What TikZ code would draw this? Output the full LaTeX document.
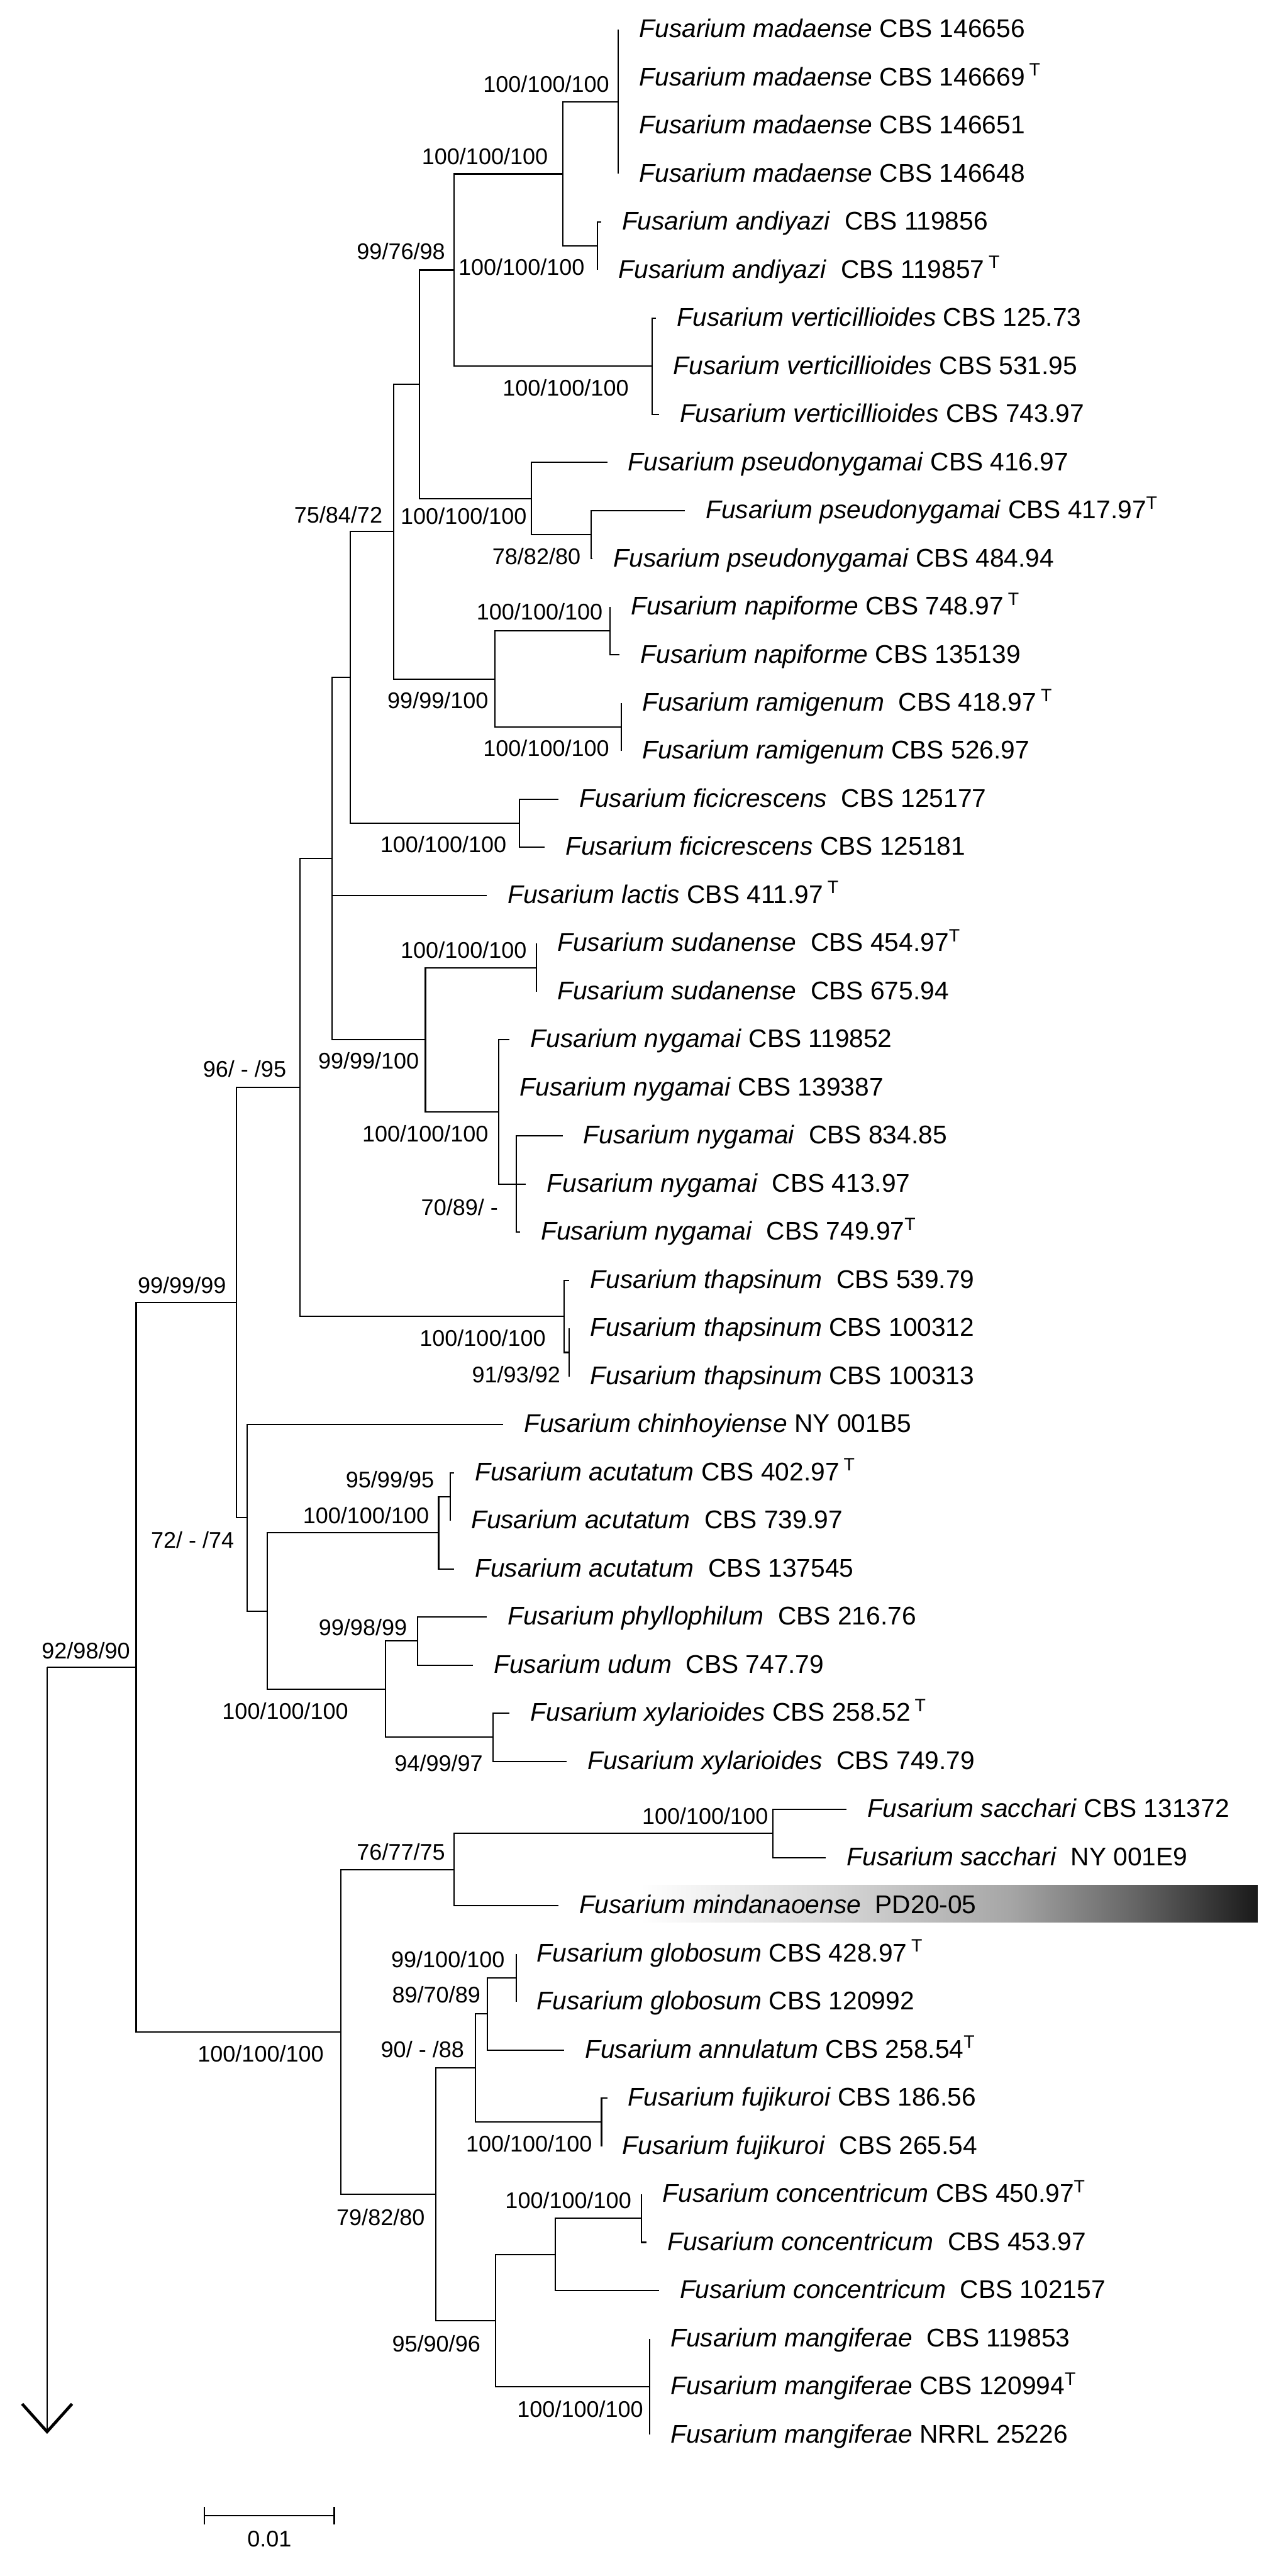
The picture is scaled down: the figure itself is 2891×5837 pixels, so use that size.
\documentclass[tikz,border=0pt]{standalone}
\usepackage{fontspec}
\setmainfont{Liberation Sans}
\usetikzlibrary{positioning,arrows.meta}
\newcommand{\Ty}{\textsuperscript{T}}
\pgfdeclarehorizontalshading{barshade}{100bp}{color(0bp)=(white); color(25bp)=(white); color(40bp)=(black!15); color(55bp)=(black!35); color(65bp)=(black!60); color(75bp)=(black!90); color(100bp)=(black!90)}
\begin{document}
\begin{tikzpicture}[x=.01cm,y=-.01cm,line width=.85pt,
  taxon/.style={inner sep=0pt,text height=.42cm,text depth=.06cm,font=\fontsize{16.5}{18}\selectfont},
  supp/.style={inner sep=0pt,anchor=east,font=\fontsize{14.6}{16}\selectfont}]
\useasboundingbox (0,0) rectangle (2891,5837);
\shade[shading=barshade] (1450,4271) rectangle (2850,4355);
\coordinate (root) at (106.7,3777.9); \coordinate (rootEnd) at (106.7,5515); \coordinate (nF) at (308.5,3777.9);
\coordinate (nH) at (535.7,2951.6); \coordinate (nG) at (680,2464); \coordinate (nE) at (752,1945.5); \coordinate (nD) at (794,1535.1);
\coordinate (nC) at (892,1204.7); \coordinate (nB) at (951,870.9); \coordinate (nA) at (1029,612); \coordinate (nMA) at (1275,394);
\coordinate (nMad) at (1401,230.5); \coordinate (nAnd) at (1354,557.5); \coordinate (nVer) at (1478,830);
\coordinate (nPs) at (1204.5,1129.8); \coordinate (nPs2) at (1339,1211.5); \coordinate (nNR) at (1121,1538.5);
\coordinate (nNap) at (1382,1429.5); \coordinate (nRam) at (1408,1647.5); \coordinate (nFic) at (1177,1865.5);
\coordinate (nSN) at (964,2356); \coordinate (nSud) at (1215.6,2192.5); \coordinate (nNyg) at (1130.6,2519.5); \coordinate (nNyg2) at (1169.4,2683);
\coordinate (nTh) at (1278,2982.8); \coordinate (nTh2) at (1289.5,3064.5);
\coordinate (nI) at (560,3439.2); \coordinate (nJ) at (606,3650.4); \coordinate (nAc) at (994,3473.3); \coordinate (nAc2) at (1020,3391.5);
\coordinate (nK) at (874,3827.5); \coordinate (nPh) at (946,3718.5); \coordinate (nXy) at (1117.7,3936.5);
\coordinate (nL) at (772,4604.1); \coordinate (nM) at (1029,4236.3); \coordinate (nSac) at (1751,4154.5);
\coordinate (nO) at (988,4972); \coordinate (nQ) at (1077,4685.9); \coordinate (nGA) at (1105,4563.3); \coordinate (nGlo) at (1169.4,4481.5);
\coordinate (nFuj) at (1363,4808.5); \coordinate (nU) at (1123,5258.1); \coordinate (nCon) at (1258,5108.3); \coordinate (nCon2) at (1454,5026.5); \coordinate (nMan) at (1472,5408);
\draw (root) -- (nF); \draw[-{Straight Barb[length=.63cm,width=1.13cm,line width=1.9pt]}] (root) -- (rootEnd);
\draw (nF) |- (nH); \draw (nF) |- (nL); \draw (nH) |- (nG); \draw (nH) |- (nI); \draw (nG) |- (nE); \draw (nG) |- (nTh);
\draw (nE) |- (nD); \draw (nE) |- (nSN); \draw (nD) |- (nC); \draw (nD) |- (nFic); \draw (nC) |- (nB); \draw (nC) |- (nNR);
\draw (nB) |- (nA); \draw (nB) |- (nPs); \draw (nA) |- (nMA); \draw (nA) |- (nVer); \draw (nMA) |- (nMad); \draw (nMA) |- (nAnd);
\draw (nPs) |- (nPs2); \draw (nNR) |- (nNap); \draw (nNR) |- (nRam); \draw (nSN) |- (nSud); \draw (nSN) |- (nNyg); \draw (nNyg) |- (nNyg2);
\draw (nTh) |- (nTh2); \draw (nI) |- (nJ); \draw (nJ) |- (nAc); \draw (nJ) |- (nK); \draw (nAc) |- (nAc2); \draw (nK) |- (nPh); \draw (nK) |- (nXy);
\draw (nL) |- (nM); \draw (nL) |- (nO); \draw (nM) |- (nSac); \draw (nO) |- (nQ); \draw (nO) |- (nU); \draw (nQ) |- (nGA); \draw (nQ) |- (nFuj);
\draw (nGA) |- (nGlo); \draw (nU) |- (nCon); \draw (nU) |- (nMan); \draw (nCon) |- (nCon2);
\coordinate (e1) at (1401,67); \draw (nMad) |- (e1); \node[taxon,right=.46cm of e1] (t1) {\textit{Fusarium madaense} CBS 146656};
\coordinate (e2) at (1401,176); \draw (nMad) |- (e2); \node[taxon,right=.46cm of e2] (t2) {\textit{Fusarium madaense} CBS 146669\,\Ty};
\coordinate (e3) at (1401,285); \draw (nMad) |- (e3); \node[taxon,right=.46cm of e3] (t3) {\textit{Fusarium madaense} CBS 146651};
\coordinate (e4) at (1401,394); \draw (nMad) |- (e4); \node[taxon,right=.46cm of e4] (t4) {\textit{Fusarium madaense} CBS 146648};
\coordinate (e5) at (1362,503); \draw (nAnd) |- (e5); \node[taxon,right=.46cm of e5] (t5) {\textit{Fusarium andiyazi}~ CBS 119856};
\coordinate (e6) at (1354,612); \draw (nAnd) |- (e6); \node[taxon,right=.46cm of e6] (t6) {\textit{Fusarium andiyazi}~ CBS 119857\,\Ty};
\coordinate (e7) at (1487,721); \draw (nVer) |- (e7); \node[taxon,right=.46cm of e7] (t7) {\textit{Fusarium verticillioides} CBS 125.73};
\coordinate (e8) at (1478,830); \draw (nVer) |- (e8); \node[taxon,right=.46cm of e8] (t8) {\textit{Fusarium verticillioides} CBS 531.95};
\coordinate (e9) at (1493,939); \draw (nVer) |- (e9); \node[taxon,right=.46cm of e9] (t9) {\textit{Fusarium verticillioides} CBS 743.97};
\coordinate (e10) at (1376,1048); \draw (nPs) |- (e10); \node[taxon,right=.46cm of e10] (t10) {\textit{Fusarium pseudonygamai} CBS 416.97};
\coordinate (e11) at (1552,1157); \draw (nPs2) |- (e11); \node[taxon,right=.46cm of e11] (t11) {\textit{Fusarium pseudonygamai} CBS 417.97\Ty};
\coordinate (e12) at (1343,1266); \draw (nPs2) |- (e12); \node[taxon,right=.46cm of e12] (t12) {\textit{Fusarium pseudonygamai} CBS 484.94};
\coordinate (e13) at (1382,1375); \draw (nNap) |- (e13); \node[taxon,right=.46cm of e13] (t13) {\textit{Fusarium napiforme} CBS 748.97\,\Ty};
\coordinate (e14) at (1404,1484); \draw (nNap) |- (e14); \node[taxon,right=.46cm of e14] (t14) {\textit{Fusarium napiforme} CBS 135139};
\coordinate (e15) at (1408,1593); \draw (nRam) |- (e15); \node[taxon,right=.46cm of e15] (t15) {\textit{Fusarium ramigenum}~ CBS 418.97\,\Ty};
\coordinate (e16) at (1408,1702); \draw (nRam) |- (e16); \node[taxon,right=.46cm of e16] (t16) {\textit{Fusarium ramigenum} CBS 526.97};
\coordinate (e17) at (1265.5,1811); \draw (nFic) |- (e17); \node[taxon,right=.46cm of e17] (t17) {\textit{Fusarium ficicrescens}~ CBS 125177};
\coordinate (e18) at (1234,1920); \draw (nFic) |- (e18); \node[taxon,right=.46cm of e18] (t18) {\textit{Fusarium ficicrescens} CBS 125181};
\coordinate (e19) at (1103,2029); \draw (nE) |- (e19); \node[taxon,right=.46cm of e19] (t19) {\textit{Fusarium lactis} CBS 411.97\,\Ty};
\coordinate (e20) at (1215.6,2138); \draw (nSud) |- (e20); \node[taxon,right=.46cm of e20] (t20) {\textit{Fusarium sudanense}~ CBS 454.97\Ty};
\coordinate (e21) at (1215.6,2247); \draw (nSud) |- (e21); \node[taxon,right=.46cm of e21] (t21) {\textit{Fusarium sudanense}~ CBS 675.94};
\coordinate (e22) at (1154.6,2356); \draw (nNyg) |- (e22); \node[taxon,right=.46cm of e22] (t22) {\textit{Fusarium nygamai} CBS 119852};
\coordinate (e23) at (1130.6,2465); \draw (nNyg) |- (e23); \node[taxon,right=.46cm of e23] (t23) {\textit{Fusarium nygamai} CBS 139387};
\coordinate (e24) at (1274.7,2574); \draw (nNyg2) |- (e24); \node[taxon,right=.46cm of e24] (t24) {\textit{Fusarium nygamai}~ CBS 834.85};
\coordinate (e25) at (1191.6,2683); \draw (nNyg2) |- (e25); \node[taxon,right=.46cm of e25] (t25) {\textit{Fusarium nygamai}~ CBS 413.97};
\coordinate (e26) at (1178.6,2792); \draw (nNyg2) |- (e26); \node[taxon,right=.46cm of e26] (t26) {\textit{Fusarium nygamai}~ CBS 749.97\Ty};
\coordinate (e27) at (1290,2901); \draw (nTh) |- (e27); \node[taxon,right=.46cm of e27] (t27) {\textit{Fusarium thapsinum}~ CBS 539.79};
\coordinate (e28) at (1289.5,3010); \draw (nTh2) |- (e28); \node[taxon,right=.46cm of e28] (t28) {\textit{Fusarium thapsinum} CBS 100312};
\coordinate (e29) at (1289.5,3119); \draw (nTh2) |- (e29); \node[taxon,right=.46cm of e29] (t29) {\textit{Fusarium thapsinum} CBS 100313};
\coordinate (e30) at (1140,3228); \draw (nI) |- (e30); \node[taxon,right=.46cm of e30] (t30) {\textit{Fusarium chinhoyiense} NY 001B5};
\coordinate (e31) at (1029,3337); \draw (nAc2) |- (e31); \node[taxon,right=.46cm of e31] (t31) {\textit{Fusarium acutatum} CBS 402.97\,\Ty};
\coordinate (e32) at (1020,3446); \draw (nAc2) |- (e32); \node[taxon,right=.46cm of e32] (t32) {\textit{Fusarium acutatum}~ CBS 739.97};
\coordinate (e33) at (1029,3555); \draw (nAc) |- (e33); \node[taxon,right=.46cm of e33] (t33) {\textit{Fusarium acutatum}~ CBS 137545};
\coordinate (e34) at (1103,3664); \draw (nPh) |- (e34); \node[taxon,right=.46cm of e34] (t34) {\textit{Fusarium phyllophilum}~ CBS 216.76};
\coordinate (e35) at (1071.5,3773); \draw (nPh) |- (e35); \node[taxon,right=.46cm of e35] (t35) {\textit{Fusarium udum}~ CBS 747.79};
\coordinate (e36) at (1154.6,3882); \draw (nXy) |- (e36); \node[taxon,right=.46cm of e36] (t36) {\textit{Fusarium xylarioides} CBS 258.52\,\Ty};
\coordinate (e37) at (1284,3991); \draw (nXy) |- (e37); \node[taxon,right=.46cm of e37] (t37) {\textit{Fusarium xylarioides}~ CBS 749.79};
\coordinate (e38) at (1917.6,4100); \draw (nSac) |- (e38); \node[taxon,right=.46cm of e38] (t38) {\textit{Fusarium sacchari} CBS 131372};
\coordinate (e39) at (1871.4,4209); \draw (nSac) |- (e39); \node[taxon,right=.46cm of e39] (t39) {\textit{Fusarium sacchari}~ NY 001E9};
\coordinate (e40) at (1265,4318); \draw (nM) |- (e40); \node[taxon,right=.46cm of e40] (t40) {\textit{Fusarium mindanaoense}~ PD20-05};
\coordinate (e41) at (1169.4,4427); \draw (nGlo) |- (e41); \node[taxon,right=.46cm of e41] (t41) {\textit{Fusarium globosum} CBS 428.97\,\Ty};
\coordinate (e42) at (1169.4,4536); \draw (nGlo) |- (e42); \node[taxon,right=.46cm of e42] (t42) {\textit{Fusarium globosum} CBS 120992};
\coordinate (e43) at (1278.4,4645); \draw (nGA) |- (e43); \node[taxon,right=.46cm of e43] (t43) {\textit{Fusarium annulatum} CBS 258.54\Ty};
\coordinate (e44) at (1376,4754); \draw (nFuj) |- (e44); \node[taxon,right=.46cm of e44] (t44) {\textit{Fusarium fujikuroi} CBS 186.56};
\coordinate (e45) at (1363,4863); \draw (nFuj) |- (e45); \node[taxon,right=.46cm of e45] (t45) {\textit{Fusarium fujikuroi}~ CBS 265.54};
\coordinate (e46) at (1454,4972); \draw (nCon2) |- (e46); \node[taxon,right=.46cm of e46] (t46) {\textit{Fusarium concentricum} CBS 450.97\Ty};
\coordinate (e47) at (1465,5081); \draw (nCon2) |- (e47); \node[taxon,right=.46cm of e47] (t47) {\textit{Fusarium concentricum}~ CBS 453.97};
\coordinate (e48) at (1493,5190); \draw (nCon) |- (e48); \node[taxon,right=.46cm of e48] (t48) {\textit{Fusarium concentricum}~ CBS 102157};
\coordinate (e49) at (1472,5299); \draw (nMan) |- (e49); \node[taxon,right=.46cm of e49] (t49) {\textit{Fusarium mangiferae}~ CBS 119853};
\coordinate (e50) at (1472,5408); \draw (nMan) |- (e50); \node[taxon,right=.46cm of e50] (t50) {\textit{Fusarium mangiferae} CBS 120994\Ty};
\coordinate (e51) at (1472,5517); \draw (nMan) |- (e51); \node[taxon,right=.46cm of e51] (t51) {\textit{Fusarium mangiferae} NRRL 25226};
\node[supp] (bMad) at (1382,191) {100/100/100}; \node[supp] (bMA) at (1243,354) {100/100/100}; \node[supp] (bAnd) at (1326,605) {100/100/100};
\node[supp] (bA) at (1010,570) {99/76/98}; \node[supp] (bVer) at (1426,879) {100/100/100}; \node[supp] (bPs) at (1195,1169) {100/100/100};
\node[supp] (bPs2) at (1317,1261) {78/82/80}; \node[supp] (bC) at (868,1167) {75/84/72}; \node[supp] (bNR) at (1108,1587) {99/99/100};
\node[supp] (bNap) at (1367,1386) {100/100/100}; \node[supp] (bRam) at (1382,1695) {100/100/100}; \node[supp] (bFic) at (1149,1913) {100/100/100};
\node[supp] (bSud) at (1195,2152) {100/100/100}; \node[supp] (bSN) at (951,2403) {99/99/100}; \node[supp] (bNyg) at (1108,2569) {100/100/100};
\node[supp] (bNyg2) at (1130,2735) {70/89/ -}; \node[supp] (bG) at (650,2422) {96/ - /95}; \node[supp] (bH) at (513.6,2912) {99/99/99};
\node[supp] (bTh) at (1238,3032) {100/100/100}; \node[supp] (bTh2) at (1271,3115) {91/93/92}; \node[supp] (bAc2) at (985,3353) {95/99/95};
\node[supp] (bAc) at (973.6,3434) {100/100/100}; \node[supp] (bI) at (532,3490) {72/ - /74}; \node[supp] (bPh) at (923.7,3687.5) {99/98/99};
\node[supp] (bK) at (790.7,3877) {100/100/100}; \node[supp] (bXy) at (1095.5,3995) {94/99/97}; \node[supp] (bF) at (296,3740) {92/98/90};
\node[supp] (bSac) at (1742,4115) {100/100/100}; \node[supp] (bM) at (1010,4196) {76/77/75}; \node[supp] (bL) at (735,4654) {100/100/100};
\node[supp] (bGlo) at (1145,4440) {99/100/100}; \node[supp] (bGA) at (1090,4520) {89/70/89}; \node[supp] (bQ) at (1053,4644) {90/ - /88};
\node[supp] (bFuj) at (1343,4858) {100/100/100}; \node[supp] (bCon2) at (1432,4985) {100/100/100}; \node[supp] (bO) at (964,5024) {79/82/80};
\node[supp] (bU) at (1090,5310) {95/90/96}; \node[supp] (bMan) at (1459,5459) {100/100/100};
\coordinate (sL) at (461,5700); \coordinate (sR) at (760,5700);
\draw[{Bar[width=.39cm,line width=1.2pt]}-{Bar[width=.39cm,line width=1.2pt]}] (sL) -- (sR); \node[supp,anchor=center] (sLab) at (610.5,5753) {0.01};
\end{tikzpicture}
\end{document}
